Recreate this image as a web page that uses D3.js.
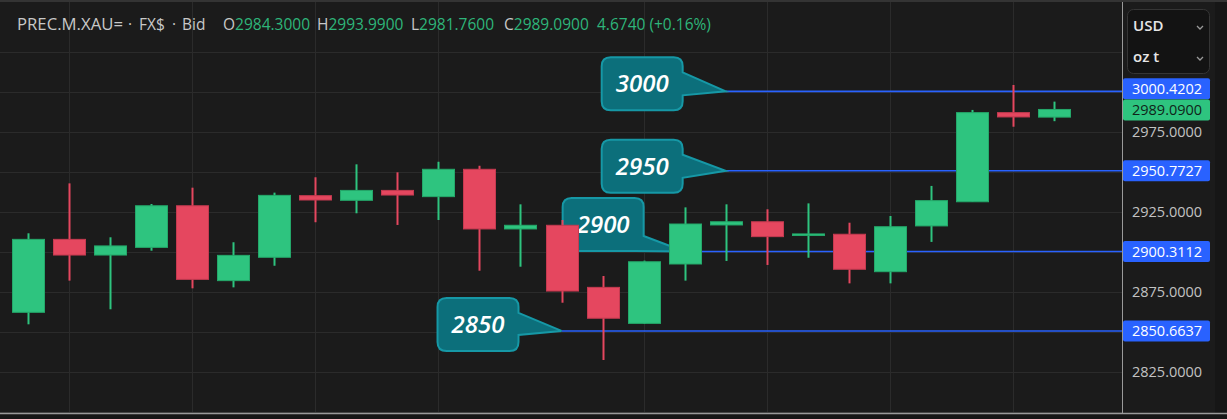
<!DOCTYPE html>
<html>
<head>
<meta charset="utf-8">
<script src="https://cdn.jsdelivr.net/npm/d3@7"></script>
<style>
body { margin: 0; background: #1b1b1b; overflow: hidden; }
text { font-family: "Open Sans", sans-serif; }
</style>
</head>
<body>
<div id="chart"></div>
<script>
// daily OHLC, oldest first
var open  = [2862.3, 2907.9, 2898.1, 2902.9, 2928.9, 2882.1, 2896.7, 2935.2, 2932.3, 2938.5,
             2934.6, 2951.7, 2914.4, 2916.7, 2877.9, 2855.4, 2892.5, 2916.9, 2918.9, 2910.3,
             2911.1, 2887.7, 2916.3, 2931.4, 2987.1, 2984.3];
var high  = [2911.7, 2942.9, 2909.2, 2930.0, 2940.2, 2906.1, 2937.1, 2946.7, 2954.8, 2949.8,
             2956.4, 2953.9, 2929.8, 2920.0, 2885.0, 2894.6, 2927.9, 2929.8, 2926.7, 2930.4,
             2918.3, 2922.5, 2941.3, 2988.8, 3004.4, 2993.99];
var low   = [2854.8, 2882.1, 2864.2, 2900.8, 2877.3, 2877.9, 2891.4, 2918.6, 2924.2, 2916.9,
             2920.0, 2888.3, 2890.8, 2868.3, 2832.5, 2855.0, 2882.1, 2894.4, 2891.9, 2896.4,
             2880.4, 2880.4, 2906.3, 2931.4, 2978.3, 2981.76];
var close = [2907.9, 2898.1, 2903.8, 2928.9, 2882.9, 2897.9, 2935.4, 2932.5, 2938.5, 2935.6,
             2951.7, 2914.4, 2916.7, 2875.6, 2858.6, 2893.9, 2917.5, 2918.9, 2909.6, 2911.3,
             2889.2, 2915.8, 2932.1, 2987.1, 2984.416, 2989.09];

// horizontal levels drawn on the chart
var levels      = [3000.4202, 2950.7727, 2900.3112, 2850.6637];
var levelNames  = ["3000", "2950", "2900", "2850"];
var levelStart  = [17, 17, 16, 13];   // candle index where each level begins

var gridValues  = [2800, 2825, 2850, 2875, 2900, 2925, 2950, 2975, 3000, 3025];
var tickValues  = [2975, 2925, 2875, 2825];
var timeGrid    = [1, 4, 7, 10, 15, 18, 21, 24];

var w = 1227, h = 419;
var plotRight = 1122, plotBottom = 413;
var green = "#2ec47f", red = "#e5475f", blue = "#2962ff";
var bodyW = 32;

var x = d3.scaleLinear().domain([0, open.length - 1]).range([28, 1054]);
var y = d3.scaleLinear().domain([2825, 2975]).range([372, 132]);

var svg = d3.select("#chart").append("svg")
    .attr("width", w)
    .attr("height", h);

svg.append("rect").attr("width", w).attr("height", h).attr("fill", "#1b1b1b");

// grid
svg.append("g").selectAll("line")
    .data(gridValues)
    .enter().append("line")
    .attr("x1", 0).attr("x2", plotRight)
    .attr("y1", function(d) { return Math.round(y(d)) + 0.5; })
    .attr("y2", function(d) { return Math.round(y(d)) + 0.5; })
    .attr("stroke", "#2b2b2b");

svg.append("g").selectAll("line")
    .data(timeGrid)
    .enter().append("line")
    .attr("x1", function(d) { return Math.round(x(d)) + 0.5; })
    .attr("x2", function(d) { return Math.round(x(d)) + 0.5; })
    .attr("y1", 0).attr("y2", plotBottom)
    .attr("stroke", "#2b2b2b");

// level lines
svg.append("g").selectAll("line")
    .data(levels)
    .enter().append("line")
    .attr("x1", function(d, i) { return x(levelStart[i]); })
    .attr("x2", plotRight)
    .attr("y1", function(d) { return y(d); })
    .attr("y2", function(d) { return y(d); })
    .attr("stroke", blue)
    .attr("stroke-width", 1.6);

// callouts: box offset from the anchor point, tail attach offsets
var calloutLayout = [
    { dx: -124, dy: -34, a1: 15, a2: 38 },
    { dx: -124, dy: -31, a1: 15, a2: 38 },
    { dx: -122, dy: -53.5, a1: 38, a2: null },
    { dx: -124, dy: -33, a1: 15, a2: 37 }
];
var boxW = 81, boxH = 53, r = 9;

function calloutPath(tx, ty, L) {
    var bx = tx + L.dx, by = ty + L.dy, R = bx + boxW, B = by + boxH;
    var p = "M" + (bx + r) + "," + by + "H" + (R - r) + "Q" + R + "," + by + " " + R + "," + (by + r);
    p += "V" + (by + L.a1) + "L" + tx + "," + ty;
    if (L.a2 === null) {
        p += "L" + (R - r) + "," + B;
    } else {
        p += "L" + R + "," + (by + L.a2) + "V" + (B - r) + "Q" + R + "," + B + " " + (R - r) + "," + B;
    }
    p += "H" + (bx + r) + "Q" + bx + "," + B + " " + bx + "," + (B - r);
    p += "V" + (by + r) + "Q" + bx + "," + by + " " + (bx + r) + "," + by + "Z";
    return p;
}

var callouts = svg.append("g").selectAll("g")
    .data(levels)
    .enter().append("g");

callouts.append("path")
    .attr("d", function(d, i) { return calloutPath(x(levelStart[i]), y(d), calloutLayout[i]); })
    .attr("fill", "#0c6f7b")
    .attr("stroke", "#1698a6")
    .attr("stroke-width", 2);

callouts.append("text")
    .attr("x", function(d, i) { return x(levelStart[i]) + calloutLayout[i].dx + boxW / 2; })
    .attr("y", function(d, i) { return y(d) + calloutLayout[i].dy + boxH / 2 + 8.5; })
    .attr("text-anchor", "middle")
    .attr("font-size", "24px")
    .attr("font-style", "italic")
    .attr("font-weight", 600)
    .attr("fill", "#ffffff")
    .text(function(d, i) { return levelNames[i]; });

// candles
var candles = svg.append("g").selectAll("g")
    .data(open)
    .enter().append("g");

candles.append("line")
    .attr("x1", function(d, i) { return Math.round(x(i)) + 0.5; })
    .attr("x2", function(d, i) { return Math.round(x(i)) + 0.5; })
    .attr("y1", function(d, i) { return y(high[i]); })
    .attr("y2", function(d, i) { return y(low[i]); })
    .attr("stroke", function(d, i) { return close[i] >= d ? green : red; })
    .attr("stroke-width", 2);

candles.append("rect")
    .attr("x", function(d, i) { return Math.round(x(i) - bodyW / 2) + 0.5; })
    .attr("y", function(d, i) { return y(Math.max(d, close[i])); })
    .attr("width", bodyW)
    .attr("height", function(d, i) { return Math.max(1.5, Math.abs(y(d) - y(close[i]))); })
    .attr("fill", function(d, i) { return close[i] >= d ? green : red; })
    .attr("stroke", function(d, i) { return close[i] >= d ? "#24a86a" : "#c53a50"; })
    .attr("stroke-width", 1);

// price axis
svg.append("rect")
    .attr("x", plotRight).attr("y", 0)
    .attr("width", w - plotRight).attr("height", plotBottom)
    .attr("fill", "#1b1b1b");
svg.append("rect")
    .attr("x", 1215).attr("y", 0)
    .attr("width", w - 1215).attr("height", h)
    .attr("fill", "#161616");
svg.append("line")
    .attr("x1", plotRight + 0.5).attr("x2", plotRight + 0.5)
    .attr("y1", 0).attr("y2", h)
    .attr("stroke", "#9a9a9a");
svg.append("rect")
    .attr("x", 0).attr("y", plotBottom)
    .attr("width", w).attr("height", h - plotBottom)
    .attr("fill", "#161616");
svg.append("line")
    .attr("x1", 0).attr("x2", w)
    .attr("y1", plotBottom + 0.5).attr("y2", plotBottom + 0.5)
    .attr("stroke", "#9a9a9a")
    .attr("stroke-width", 1.5);
svg.append("rect")
    .attr("x", 0).attr("y", 0)
    .attr("width", w).attr("height", 2)
    .attr("fill", "#343434");

svg.append("g").selectAll("text")
    .data(tickValues)
    .enter().append("text")
    .attr("x", 1132)
    .attr("y", function(d) { return y(d) + 5; })
    .attr("font-size", "14.5px")
    .attr("fill", "#c2c2c2")
    .text(function(d) { return d3.format(".4f")(d); });

var axisTags = svg.append("g").selectAll("g")
    .data(levels)
    .enter().append("g")
    .attr("transform", function(d, i) {
        // top tag is pushed up so it clears the last-price tag
        return "translate(0," + (i === 0 ? y(d) - 2.5 : y(d)) + ")";
    });
axisTags.append("rect")
    .attr("x", 1123).attr("y", -10.5)
    .attr("width", 87).attr("height", 21)
    .attr("rx", 2)
    .attr("fill", blue);
axisTags.append("text")
    .attr("x", 1132).attr("y", 5)
    .attr("font-size", "14.5px")
    .attr("fill", "#ffffff")
    .text(function(d) { return d3.format(".4f")(d); });

var last = close[close.length - 1];
svg.append("rect")
    .attr("x", 1123).attr("y", y(last) - 10)
    .attr("width", 87).attr("height", 21)
    .attr("rx", 2)
    .attr("fill", green);
svg.append("text")
    .attr("x", 1132).attr("y", y(last) + 5.5)
    .attr("font-size", "14.5px")
    .attr("fill", "#10241a")
    .text(d3.format(".4f")(last));

// currency / unit selector
svg.append("rect")
    .attr("x", 1127.5).attr("y", 9.5)
    .attr("width", 82).attr("height", 64)
    .attr("rx", 6)
    .attr("fill", "#131313")
    .attr("stroke", "#353535");
var units = ["USD", "oz t"];
svg.append("g").selectAll("text")
    .data(units)
    .enter().append("text")
    .attr("x", 1133)
    .attr("y", function(d, i) { return 31 + i * 31; })
    .attr("font-size", "15px")
    .attr("font-weight", 600)
    .attr("fill", "#e6e6e6")
    .text(function(d) { return d; });
svg.append("g").selectAll("path")
    .data(units)
    .enter().append("path")
    .attr("d", function(d, i) {
        var cy = 26 + i * 31;
        return "M1197," + cy + "L1200," + (cy + 3) + "L1203," + cy;
    })
    .attr("fill", "none")
    .attr("stroke", "#9a9a9a")
    .attr("stroke-width", 1.3);

// legend line
var symbolParts = ["PREC.M.XAU=", "·", "FX$", "·", "Bid"];
var symbolX     = [17, 128, 139, 172, 182];
var header = svg.append("text")
    .attr("y", 30)
    .attr("font-size", "15.5px")
    .attr("fill", "#c8c8c8");
header.append("tspan")
    .attr("x", symbolX[0])
    .attr("textLength", 106)
    .attr("lengthAdjust", "spacingAndGlyphs")
    .text(symbolParts[0]);
symbolParts.slice(1).forEach(function(s, i) {
    header.append("tspan").attr("x", symbolX[i + 1]).text(s);
});

var n = open.length - 1;
var chg = close[n] - close[n - 1];
var ohlc = [["O", open[n]], ["H", high[n]], ["L", low[n]], ["C", close[n]]];
var ohlcX = [223, 317, 411, 504];
ohlc.forEach(function(o, i) {
    header.append("tspan").attr("x", ohlcX[i]).text(o[0]);
    header.append("tspan").attr("fill", "#2eb57a").text(d3.format(".4f")(o[1]));
});
header.append("tspan").attr("x", 597).attr("fill", "#2eb57a")
    .text(d3.format(".4f")(chg) + " (" + d3.format("+.2%")(chg / close[n - 1]) + ")");
</script>
</body>
</html>
